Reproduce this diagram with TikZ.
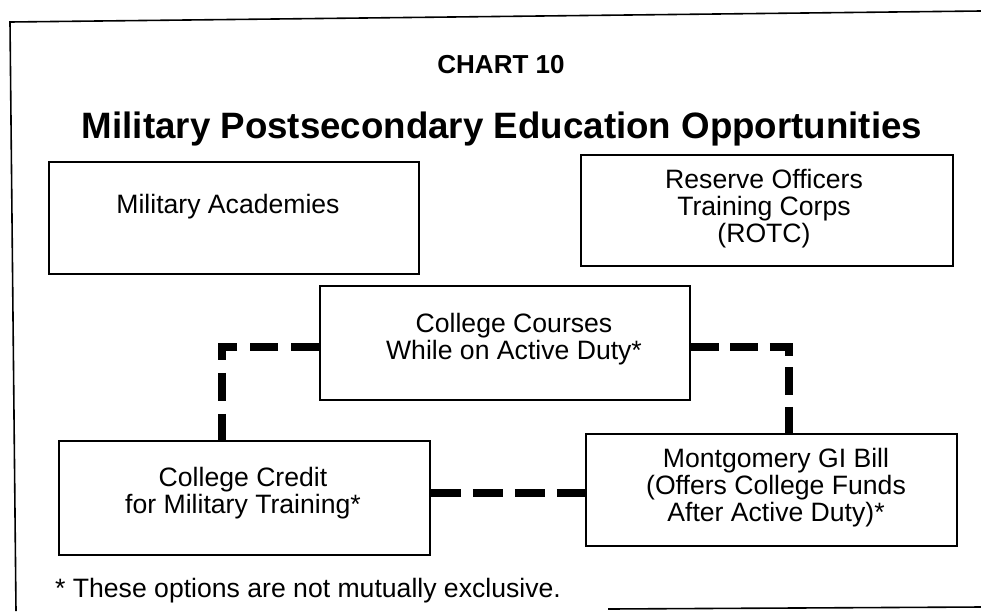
\documentclass[tikz,border=0pt]{standalone}
\usepackage{fontspec}
\setmainfont{Liberation Sans}
\begin{document}
\begin{tikzpicture}[x=1pt,y=-1pt,
  box/.style={draw=black,line width=1.8pt,rectangle,inner sep=0pt},
  txt/.style={align=center,inner sep=0pt,font=\fontsize{26.6}{26.8}\selectfont},
  conn/.style={draw=black,line width=8.5pt,line cap=butt,line join=miter},
  frame/.style={draw=black,line width=1.6pt}]
\useasboundingbox (0,0) rectangle (981,611);
% frame
\coordinate (fTR) at (981,11);
\coordinate (fTL) at (10,22);
\coordinate (fBL) at (16,611);
\coordinate (fB1) at (608,609);
\coordinate (fB2) at (981,607);
\draw[frame] (fTR) -- (fTL) -- (fBL);
\draw[frame] (fB1) -- (fB2);
% titles
\node[anchor=base,inner sep=0pt,font=\bfseries\fontsize{26}{30}\selectfont] (chart) at (501,73) {CHART 10};
\node[anchor=base,inner sep=0pt,font=\bfseries\fontsize{36.7}{40}\selectfont] (title) at (502,138) {Military Postsecondary Education Opportunities};
% boxes
\node[box,minimum width=370,minimum height=112] (acad) at (234,218) {};
\node[txt] (acadT) at (228,207) {Military Academies};
\node[box,minimum width=372,minimum height=111] (rotc) at (767,210.5) {};
\node[txt] (rotcT) at (764,208.5) {Reserve Officers\\Training Corps\\(ROTC)};
\node[box,minimum width=370,minimum height=114] (courses) at (505,343) {};
\node[txt] (coursesT) at (514,339) {College Courses\\While on Active Duty*};
\node[box,minimum width=371,minimum height=114] (credit) at (244.5,498) {};
\node[txt] (creditT) at (243,493.5) {College Credit\\for Military Training*};
\node[box,minimum width=371,minimum height=112] (gi) at (771.5,490) {};
\node[txt] (giT) at (776,487.5) {Montgomery GI Bill\\(Offers College Funds\\After Active Duty)*};
% footnote
\node[anchor=base west,inner sep=0pt,font=\fontsize{26.6}{27}\selectfont] (note) at (55,597) {* These options are not mutually exclusive.};
% connectors
\draw[conn,dash pattern=on 28pt off 13pt] ([yshift=-4pt]courses.west) -| ([xshift=-22.5pt]credit.north);
\draw[conn,dash pattern=on 28pt off 11.5pt] ([yshift=-4pt]courses.east) -| ([xshift=17.5pt]gi.north);
\draw[conn,dash pattern=on 30pt off 12pt] ([yshift=5pt]credit.east) -- ([yshift=5pt]credit.east -| gi.west);
\end{tikzpicture}
\end{document}
